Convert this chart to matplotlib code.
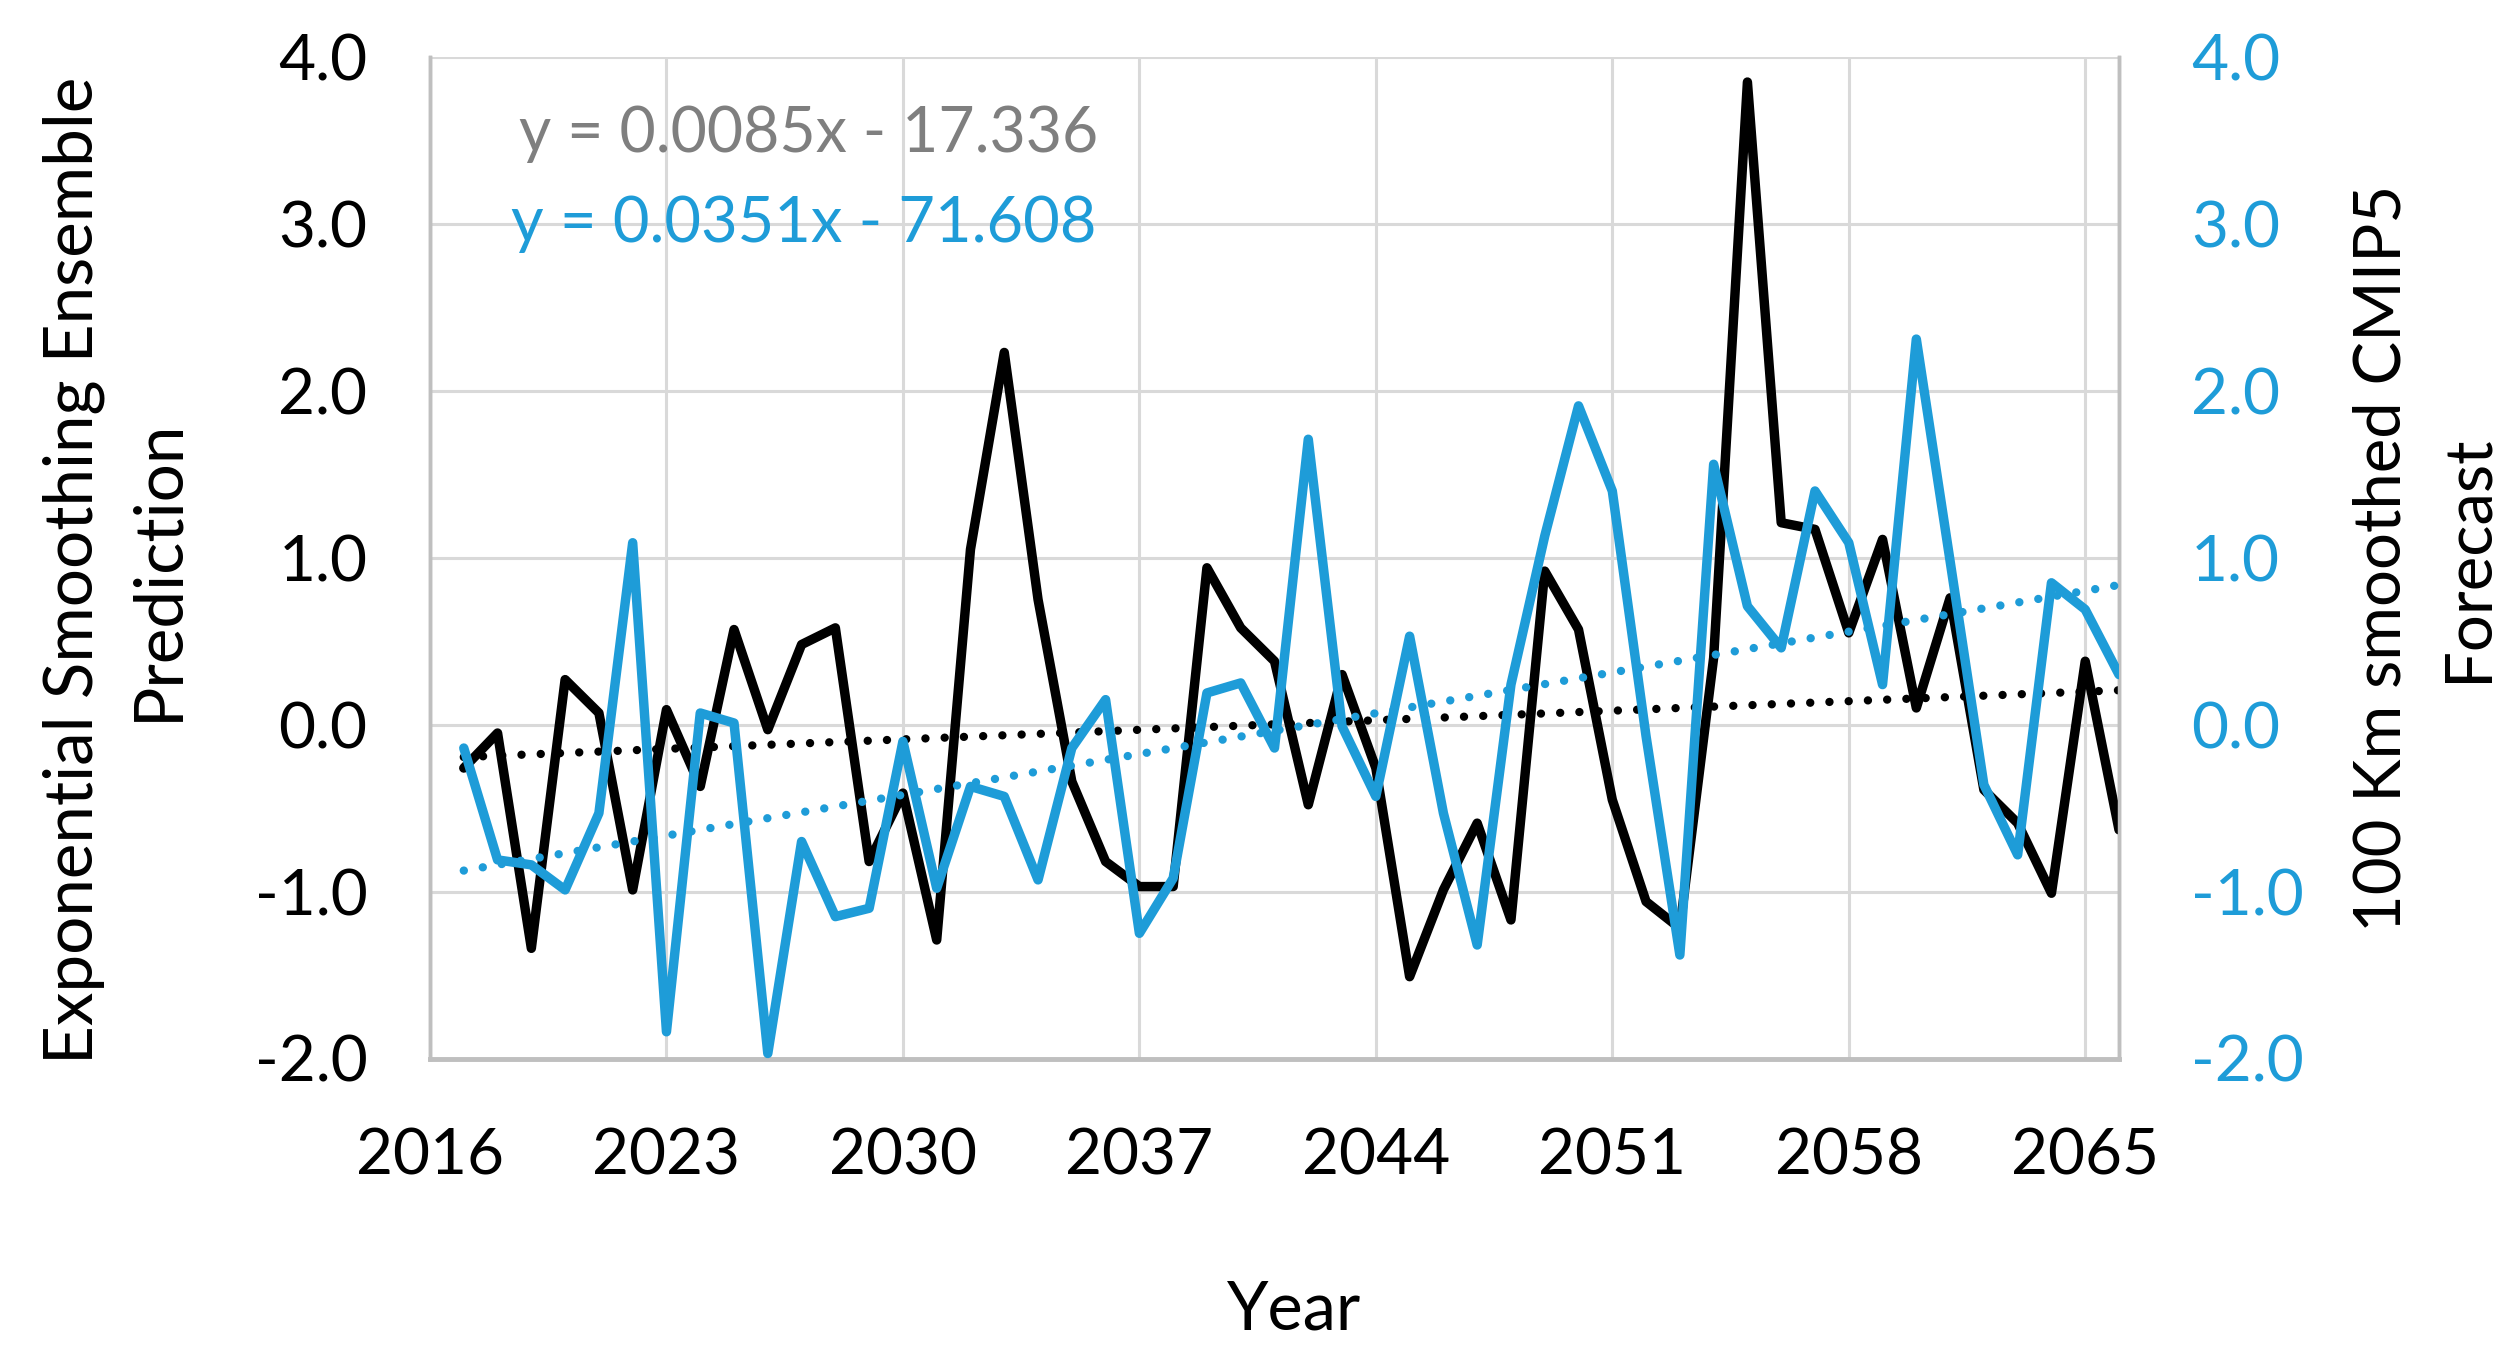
import numpy as np
import matplotlib
matplotlib.use('Agg')
import matplotlib.pyplot as plt

plt.rcParams['font.family'] = ['Lato', 'DejaVu Sans']
plt.rcParams['axes.unicode_minus'] = False

years = list(range(2017, 2067))

# exponential smoothing ensemble prediction (left axis)
ets = [-0.26, -0.05, -1.34, 0.27, 0.07, -0.99, 0.09, -0.37, 0.57, -0.03,
       0.48, 0.58, -0.82, -0.41, -1.29, 1.05, 2.23, 0.75, -0.34, -0.82,
       -0.97, -0.97, 0.94, 0.58, 0.38, -0.48, 0.30, -0.26, -1.51, -0.99,
       -0.59, -1.17, 0.92, 0.57, -0.45, -1.06, -1.22, 0.40, 3.85, 1.21,
       1.17, 0.55, 1.11, 0.10, 0.76, -0.39, -0.59, -1.01, 0.38, -0.63]

# 100 km smoothed CMIP5 forecast (right axis)
cmip = [-0.14, -0.81, -0.84, -0.99, -0.53, 1.09, -1.84, 0.07, 0.01, -1.97,
        -0.70, -1.15, -1.10, -0.10, -0.98, -0.37, -0.43, -0.93, -0.14, 0.15,
        -1.25, -0.92, 0.19, 0.25, -0.14, 1.71, -0.01, -0.43, 0.53, -0.53,
        -1.32, 0.24, 1.13, 1.91, 1.40, -0.07, -1.38, 1.56, 0.71, 0.46,
        1.40, 1.09, 0.24, 2.31, 0.98, -0.36, -0.78, 0.85, 0.69, 0.30]

x_ticks = list(range(2016, 2066, 7))
y_ticks = [-2, -1, 0, 1, 2, 3, 4]

blue = '#1E9CD8'
grid_c = '#D9D9D9'
spine_c = '#BFBFBF'
fs = 46

fig = plt.figure(figsize=(25.08, 13.56), dpi=100)
ax = fig.add_axes([430/2508, 1-1058.5/1356, (2119-430)/2508, (1058.5-57)/1356])
ax2 = ax.twinx()

x = np.array(years)
p1 = np.polyfit(x, ets, 1)
p2 = np.polyfit(x, cmip, 1)

ax.plot(x, ets, color='black', lw=6.8, solid_joinstyle='round',
        solid_capstyle='round', zorder=3)
ax.plot(x, np.polyval(p1, x), color='black', lw=6,
        linestyle=(0, (0.01, 2.3)), dash_capstyle='round', zorder=3)
ax2.plot(x, cmip, color=blue, lw=6.8, solid_joinstyle='round',
         solid_capstyle='round', zorder=3)
ax2.plot(x, np.polyval(p2, x), color=blue, lw=6,
         linestyle=(0, (0.01, 2.3)), dash_capstyle='round', zorder=3)

for a in (ax, ax2):
    a.set_xlim(2016, 2066)
    a.set_ylim(-2, 4)
    a.set_yticks(y_ticks)
    a.set_yticklabels([f'{v:.1f}' for v in y_ticks])
    for s in a.spines.values():
        s.set_color(spine_c)
        s.set_linewidth(2.5)
    a.spines['top'].set_visible(False)

ax.set_xticks(x_ticks)
ax.set_xticklabels([str(v) for v in x_ticks])
ax.grid(True, color=grid_c, lw=2.2)
ax.set_axisbelow(True)
ax.tick_params(axis='both', length=0, labelsize=fs, colors='black')
ax.tick_params(axis='y', pad=45)
ax.tick_params(axis='x', pad=50)
ax2.tick_params(axis='y', length=0, labelsize=fs, colors=blue, pad=52)
ax.spines['bottom'].set_linewidth(3.5)

fig.text(116/2508, 1-570/1356, 'Exponential Smoothing Ensemble\nPrediction',
         rotation=90, ha='center', va='center', fontsize=48.5, linespacing=1.45)
fig.text(2425/2508, 1-558/1356, '100 Km smoothed CMIP5\nForecast',
         rotation=90, ha='center', va='center', fontsize=47, linespacing=1.55)
fig.text(1294/2508, 1-1310/1356, 'Year', ha='center', va='center', fontsize=48)

fig.text(519/2508, 1-152/1356, 'y = 0.0085x - 17.336', color='#7F7F7F',
         fontsize=45, ha='left', va='baseline')
fig.text(511/2508, 1-242/1356, 'y = 0.0351x - 71.608', color=blue,
         fontsize=45.5, ha='left', va='baseline')

fig.savefig('out.png', dpi=100)
